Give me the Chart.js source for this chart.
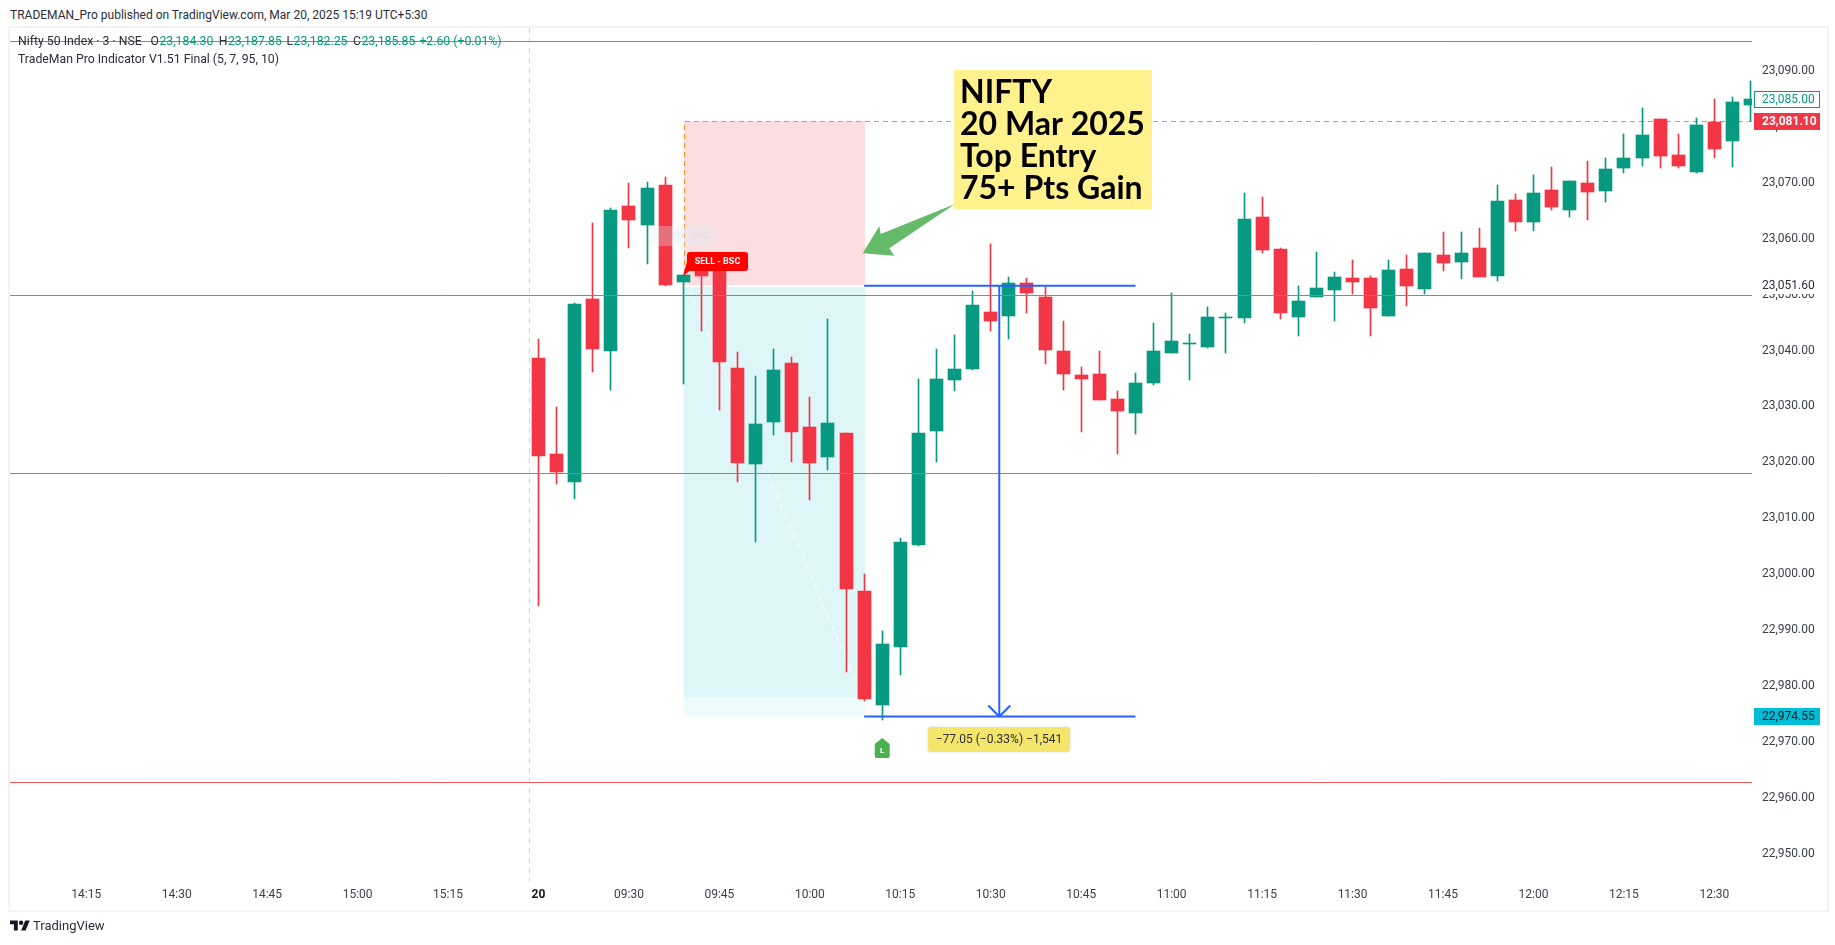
<!DOCTYPE html>
<html>
<head>
<meta charset="utf-8">
<title>NIFTY 20 Mar 2025</title>
<script src="https://cdn.jsdelivr.net/npm/chart.js@4"></script>
<style>
    html, body { margin: 0; padding: 0; background: #fff; width: 1835px; height: 945px; overflow: hidden; }
    body { font-family: Roboto, sans-serif; color: #2a2e39; position: relative; }
    #frame { position: absolute; left: 8px; top: 26px; width: 1817px; height: 882px; border: 2px solid #f2f3f5; }
    #chartMain { position: absolute; left: 0; top: 0; }
    #publisher { position: absolute; left: 10px; top: 7px; font-size: 12px; line-height: 16px; }
    #footer { position: absolute; left: 10px; top: 917px; font-size: 13px; line-height: 18px; display: flex; align-items: center; gap: 3px; }
</style>
</head>
<body>
<div id="frame"></div>
<div id="publisher">TRADEMAN_Pro published on TradingView.com, Mar 20, 2025 15:19 UTC+5:30</div>
<canvas id="chartMain" width="1835" height="945"></canvas>
<div id="footer">
    <svg width="20" height="16" viewBox="0 0 36 28"><path fill="#131722" d="M14 22H7V11H0V4h14v18zM28 22h-8l7.5-18h8L28 22z"/><circle fill="#131722" cx="20" cy="8" r="4"/></svg>
    <span>TradingView</span>
</div>
<script>
// ========== DATA ==========
const opens = [23038.65,23021.5,23016.5,23049.2,23039.9,23065.9,23062.5,23069.6,23052.3,23054.8,23055,23036.9,23019.7,23027.2,23037.8,23026.3,23021,23025.2,22997,22976.6,22987,23005.2,23025.6,23034.7,23036.7,23046.9,23046.2,23052.1,23049.6,23039.9,23035.6,23035.8,23031.3,23028.8,23034.2,23039.6,23041.1,23040.6,23045.9,23045.8,23063.9,23058.2,23046,23049.6,23050.8,23053,23053,23046.2,23054.6,23051,23057.1,23055.8,23058.3,23053.3,23066.9,23063,23068.7,23065.1,23070,23068.5,23072.7,23074.4,23081.4,23075,23071.9,23080.9,23077.5,23083.9];
const highs = [23042.05,23029.9,23048.5,23062.8,23065.5,23070,23070.1,23071,23053.6,23056,23055.5,23039.7,23035.4,23040.3,23038.8,23031.7,23045.6,23025.3,23000,22989.8,23006.5,23034.9,23040.3,23042.8,23050.6,23059.1,23053.2,23053,23051.4,23045.3,23037.1,23039.9,23032.8,23036,23044.9,23050.3,23043,23047.8,23046.7,23068.2,23067.5,23058.3,23051.5,23057.6,23054,23056.2,23053.3,23056.2,23057.1,23057.5,23061.2,23061.2,23061.9,23069.6,23068,23071.4,23072.8,23070.4,23073.9,23074.4,23078.7,23083.4,23081.5,23078.7,23081.6,23085,23085.4,23088.2];
const lows = [22994.3,23016.1,23013.4,23036.2,23032.9,23058.3,23055.5,23051.6,23034,23043.5,23029.4,23016.5,23005.7,23024.9,23020,23013.3,23018.6,22982.5,22977.3,22973.9,22982,23005.1,23020,23032.8,23036.5,23043.5,23042.1,23046.7,23037.6,23032.9,23025.4,23031.1,23021.5,23025.1,23033.8,23039.5,23034.7,23040.5,23039.5,23044.9,23057.4,23045.6,23042.6,23049.5,23045.3,23050.1,23042.6,23046.1,23048,23050.1,23054.2,23052.8,23053.1,23052.4,23061.4,23061.4,23065.1,23063.9,23063.3,23066.6,23071.8,23073,23072.7,23072.7,23071.8,23074.4,23072.8,23081.1];
const closes = [23021.15,23018.3,23048.3,23040.3,23065.1,23063.3,23069.1,23051.7,23053.5,23053.3,23037.9,23019.9,23026.9,23036.5,23025.4,23019.9,23027,22997.3,22977.7,22987.5,23005.7,23025.2,23034.9,23036.7,23048.1,23045.3,23052.1,23050.3,23040.1,23035.8,23034.9,23031.1,23029.2,23034.2,23039.9,23041.7,23041.2,23046,23046,23063.5,23058,23046.7,23048.9,23051.2,23053.2,23052.3,23047.6,23054.4,23051.5,23057.4,23055.7,23057.4,23053.2,23066.7,23063,23068.2,23065.7,23070.3,23068.4,23072.5,23074.4,23078.6,23074.8,23073,23080.3,23076.1,23084.5,23085];

const timeTickBars = [-25,-20,-15,-10,-5,0,5,10,15,20,25,30,35,40,45,50,55,60,65];
const timeTickLabels = ['14:15','14:30','14:45','15:00','15:15','20','09:30','09:45','10:00','10:15','10:30','10:45','11:00','11:15','11:30','11:45','12:00','12:15','12:30'];
const priceTicks = [22950,22960,22970,22980,22990,23000,23010,23020,23030,23040,23050,23060,23070,23080,23090];

// horizontal levels drawn in red on the chart
const redLevels = [23095.28,23049.85,23018.01,22962.74];

const UP = '#089981';
const DOWN = '#f23645';
const FONT = 'Roboto, sans-serif';
const BAR_MIN = -29.215;
const BAR_MAX = 67.08;

const isUp = closes.map((c, i) => c >= opens[i]);
const candleColors = isUp.map(up => up ? UP : DOWN);

function formatPrice(v) {
    return v.toLocaleString('en-US', { minimumFractionDigits: 2, maximumFractionDigits: 2 });
}

function roundRect(ctx, x, y, w, h, r, fill) {
    ctx.beginPath();
    ctx.roundRect(x, y, w, h, r);
    ctx.fillStyle = fill;
    ctx.fill();
}

// ========== DRAWING HELPERS ==========
// keeps bars on whole pixels like the original chart
const snapBars = {
    id: 'snapBars',
    afterDatasetsUpdate(chart) {
        chart.data.datasets.forEach((ds, idx) => {
            if (ds.type !== 'bar') return;
            chart.getDatasetMeta(idx).data.forEach(el => {
                el.x = Math.floor(el.x) + 0.5;
                el.y = Math.round(el.y);
                el.base = Math.round(el.base);
                if (el.y === el.base) el.base += 1;
            });
        });
    }
};

// position tool behind the candles
const zones = {
    id: 'zones',
    beforeDatasetsDraw(chart) {
        const { ctx, chartArea, scales: { x, y } } = chart;
        const left = x.getPixelForValue(8.02);
        const right = x.getPixelForValue(18.05);
        ctx.save();
        ctx.fillStyle = '#fcdee1';
        ctx.fillRect(left, y.getPixelForValue(23081.1), right - left, y.getPixelForValue(23051.7) - y.getPixelForValue(23081.1));
        ctx.fillStyle = '#dff6f9';
        ctx.fillRect(left, y.getPixelForValue(23051.35), right - left, y.getPixelForValue(22977.9) - y.getPixelForValue(23051.35));
        ctx.fillStyle = '#eefbfd';
        ctx.fillRect(left, y.getPixelForValue(22977.9), right - left, y.getPixelForValue(22974.55) - y.getPixelForValue(22977.9));

        // white dashed diagonal
        ctx.strokeStyle = 'rgba(255,255,255,0.9)';
        ctx.lineWidth = 1;
        ctx.setLineDash([6, 5]);
        ctx.beginPath();
        ctx.moveTo(left + 2, y.getPixelForValue(23052.5));
        ctx.lineTo(right - 4, y.getPixelForValue(22978.5));
        ctx.stroke();

        // session break
        ctx.strokeStyle = '#c5d8f0';
        ctx.setLineDash([5, 5]);
        const sx = Math.round(x.getPixelForValue(-0.5)) + 0.5;
        ctx.beginPath();
        ctx.moveTo(sx, chartArea.top);
        ctx.lineTo(sx, chartArea.bottom);
        ctx.stroke();

        // entry price line
        ctx.strokeStyle = '#f7941d';
        ctx.setLineDash([5, 4]);
        const oy = Math.round(y.getPixelForValue(23081.1)) + 0.5;
        const ox = Math.round(left) + 0.5;
        ctx.beginPath();
        ctx.moveTo(chartArea.right, oy);
        ctx.lineTo(ox, oy);
        ctx.lineTo(ox, y.getPixelForValue(23053.5));
        ctx.stroke();
        ctx.restore();
    }
};

// drawings above the candles and labels on the axis
const overlays = {
    id: 'overlays',
    afterDatasetsDraw(chart) {
        const { ctx, scales: { x, y } } = chart;
        ctx.save();
        ctx.setLineDash([]);

        // faded signal label
        ctx.globalAlpha = 0.3;
        roundRect(ctx, 651, 226, 65, 20, 3, '#d8f0f5');
        ctx.beginPath();
        ctx.moveTo(678, 246); ctx.lineTo(683, 251); ctx.lineTo(688, 246);
        ctx.fill();
        ctx.globalAlpha = 0.12;
        ctx.fillStyle = '#9fb6bc';
        ctx.font = `bold 9px ${FONT}`;
        ctx.textAlign = 'center';
        ctx.textBaseline = 'middle';
        ctx.fillText('DOWN - BSC', 683.5, 236);
        ctx.globalAlpha = 1;

        // SELL label
        ctx.fillStyle = '#ff0000';
        ctx.beginPath();
        ctx.moveTo(683, 276); ctx.lineTo(687, 262); ctx.lineTo(692, 269);
        ctx.fill();
        roundRect(ctx, 687, 252, 61, 19, 3, '#ff0000');
        ctx.fillStyle = '#fff';
        ctx.font = `bold 9px ${FONT}`;
        ctx.fillText('SELL - BSC', 717.5, 261.5);

        // price range measure
        const mL = x.getPixelForValue(18);
        const mR = x.getPixelForValue(33);
        const mX = x.getPixelForValue(25.47);
        const mTop = y.getPixelForValue(23051.6);
        const mBot = y.getPixelForValue(22974.55);
        ctx.strokeStyle = '#2962ff';
        ctx.lineWidth = 2;
        ctx.beginPath();
        ctx.moveTo(mL, mTop); ctx.lineTo(mR, mTop);
        ctx.moveTo(mL, mBot); ctx.lineTo(mR, mBot);
        ctx.moveTo(mX, mTop); ctx.lineTo(mX, mBot);
        ctx.moveTo(mX - 11, mBot - 11); ctx.lineTo(mX, mBot); ctx.lineTo(mX + 11, mBot - 11);
        ctx.stroke();

        ctx.shadowColor = 'rgba(0,0,0,0.15)';
        ctx.shadowBlur = 3;
        roundRect(ctx, 928, 727, 142, 25, 3, '#f5e66b');
        ctx.shadowBlur = 0;
        ctx.fillStyle = '#2a2e39';
        ctx.font = `12px ${FONT}`;
        ctx.fillText('\u221277.05 (\u22120.33%) \u22121,541', 999, 739.5);

        // long marker
        const lx = x.getPixelForValue(19);
        ctx.fillStyle = '#4caf50';
        ctx.beginPath();
        ctx.moveTo(lx, 738); ctx.lineTo(lx + 7.5, 744); ctx.lineTo(lx + 7.5, 756);
        ctx.quadraticCurveTo(lx + 7.5, 758, lx + 5.5, 758);
        ctx.lineTo(lx - 5.5, 758);
        ctx.quadraticCurveTo(lx - 7.5, 758, lx - 7.5, 756);
        ctx.lineTo(lx - 7.5, 744);
        ctx.closePath();
        ctx.fill();
        ctx.fillStyle = '#fff';
        ctx.font = `bold 8px ${FONT}`;
        ctx.fillText('L', lx, 750.5);

        // callout and arrow
        ctx.fillStyle = '#66bb6a';
        ctx.beginPath();
        ctx.moveTo(862.7, 253.3); ctx.lineTo(879.3, 226); ctx.lineTo(880.7, 234);
        ctx.lineTo(955, 204); ctx.lineTo(889.3, 248.3); ctx.lineTo(894.3, 255.7);
        ctx.closePath();
        ctx.fill();
        ctx.fillStyle = 'rgba(255,240,130,0.93)';
        ctx.fillRect(954, 70, 198, 139);
        ctx.fillStyle = '#000';
        ctx.font = `bold 32px Lato, ${FONT}`;
        ctx.textAlign = 'left';
        ctx.textBaseline = 'alphabetic';
        ['NIFTY', '20 Mar 2025', 'Top Entry', '75+ Pts Gain'].forEach((line, i) => {
            ctx.fillText(line, 960, 102.5 + i * 32);
        });

        // legend
        ctx.font = `12.25px ${FONT}`;
        ctx.textBaseline = 'middle';
        ctx.fillStyle = '#2a2e39';
        ctx.fillText('Nifty 50 Index \u00b7 3 \u00b7 NSE', 18, 42);
        ctx.fillText('TradeMan Pro Indicator V1.51 Final (5, 7, 95, 10)', 18, 59.5);
        [['O', 150.5, '23,184.30'], ['H', 218.7, '23,187.85'], ['L', 286.5, '23,182.25'], ['C', 353, '23,185.85']].forEach(([k, lxx, val]) => {
            ctx.fillStyle = '#2a2e39';
            ctx.fillText(k, lxx, 42);
            ctx.fillStyle = UP;
            ctx.fillText(val, lxx + ctx.measureText(k).width + 0.5, 42);
        });
        ctx.fillText('+2.60 (+0.01%)', 419.4, 42);
        ctx.restore();
    },
    afterDraw(chart) {
        const { ctx, scales: { y } } = chart;
        const tag = (value, fill, stroke, color, weight) => {
            const py = Math.round(y.getPixelForValue(value));
            ctx.fillStyle = fill;
            ctx.fillRect(1754, py - 8, 66, 17);
            if (stroke) {
                ctx.strokeStyle = stroke;
                ctx.lineWidth = 1;
                ctx.strokeRect(1754.5, py - 7.5, 65, 16);
            }
            ctx.fillStyle = color;
            ctx.font = `${weight} 12px ${FONT}`;
            ctx.textAlign = 'left';
            ctx.textBaseline = 'middle';
            ctx.fillText(formatPrice(value), 1762, py + 0.5);
        };
        ctx.save();
        const py = Math.round(y.getPixelForValue(23051.6));
        ctx.fillStyle = '#fff';
        ctx.fillRect(1754, py - 8, 66, 16);
        ctx.fillStyle = '#2a2e39';
        ctx.font = `12px ${FONT}`;
        ctx.textAlign = 'left';
        ctx.textBaseline = 'middle';
        ctx.fillText(formatPrice(23051.6), 1762, py);
        tag(23085, '#fff', UP, UP, 'normal');
        tag(23081.1, DOWN, null, '#fff', 'bold');
        tag(22974.55, '#00bcd4', null, '#131722', 'normal');
        ctx.restore();
    }
};

// ========== CHART ==========
const redLevelSets = redLevels.map(level => ({
    type: 'line',
    data: [{ x: BAR_MIN, y: level }, { x: BAR_MAX, y: level }],
    borderColor: '#f4585c',
    borderWidth: 1,
    pointRadius: 0,
    order: 0
}));

new Chart(document.getElementById('chartMain').getContext('2d'), {
    type: 'bar',
    data: {
        datasets: [
            {
                type: 'bar',
                label: 'Wicks',
                data: lows.map((low, i) => ({ x: i, y: [low, highs[i]] })),
                backgroundColor: candleColors,
                barThickness: 1,
                grouped: false,
                order: 2
            },
            {
                type: 'bar',
                label: 'Bodies',
                data: opens.map((open, i) => ({ x: i, y: [open, closes[i]] })),
                backgroundColor: candleColors,
                barThickness: 13,
                minBarLength: 1,
                grouped: false,
                order: 1
            },
            ...redLevelSets
        ]
    },
    plugins: [snapBars, zones, overlays],
    options: {
        responsive: false,
        animation: false,
        layout: { padding: { left: 10, top: 28, right: 0, bottom: 0 } },
        plugins: { legend: { display: false }, tooltip: { enabled: false } },
        scales: {
            x: {
                type: 'linear',
                offset: false,
                min: BAR_MIN,
                max: BAR_MAX,
                grid: { display: false, drawTicks: false },
                border: { display: false },
                afterBuildTicks: scale => { scale.ticks = timeTickBars.map(value => ({ value })); },
                afterFit: scale => { scale.height = 63; },
                ticks: {
                    autoSkip: false,
                    maxRotation: 0,
                    padding: 6,
                    color: ctx => ctx.tick.value === 0 ? '#131722' : '#3c404b',
                    font: ctx => ({ family: FONT, size: 12, weight: ctx.tick && ctx.tick.value === 0 ? 'bold' : 'normal' }),
                    callback: value => timeTickLabels[timeTickBars.indexOf(value)]
                }
            },
            y: {
                position: 'right',
                min: 22944.94,
                max: 23097.7,
                grid: { display: false, drawTicks: false },
                border: { display: false },
                afterBuildTicks: scale => { scale.ticks = priceTicks.map(value => ({ value })); },
                afterFit: scale => { scale.width = 83; },
                ticks: {
                    padding: 10,
                    color: '#3c404b',
                    font: { family: FONT, size: 12 },
                    callback: value => formatPrice(value)
                }
            }
        }
    }
});
</script>
</body>
</html>
